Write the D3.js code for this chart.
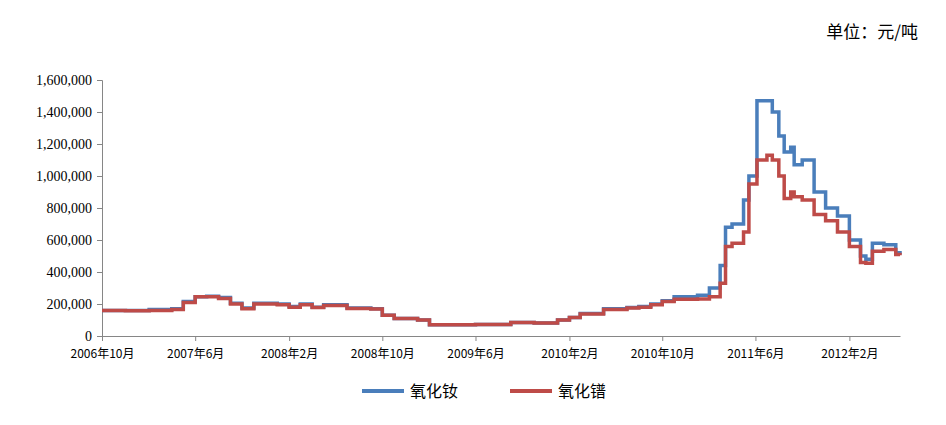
<!DOCTYPE html>
<html lang="zh">
<head>
<meta charset="UTF-8">
<title>氧化钕 氧化镨 价格</title>
<script src="https://d3js.org/d3.v7.min.js"></script>
<style>
  body { margin: 0; background: #fff; }
  text { font-family: "Liberation Serif", "Noto Sans CJK SC", serif; fill: #000; }
  .cjk { font-family: "Noto Sans CJK SC", sans-serif; }
</style>
</head>
<body>
<svg width="946" height="425"></svg>
<script>
// dates (year-month, fractional month allowed as day)
const dates = ['2006-10-01','2006-12-01','2007-02-01','2007-04-01','2007-05-01','2007-06-01','2007-07-01','2007-08-01','2007-09-01','2007-10-01','2007-11-01','2008-01-01','2008-02-01','2008-03-01','2008-04-01','2008-05-01','2008-07-01','2008-09-01','2008-10-01','2008-11-01','2009-01-01','2009-02-01','2009-06-01','2009-08-01','2009-09-01','2009-11-01','2010-01-01','2010-02-01','2010-03-01','2010-05-01','2010-07-01','2010-08-01','2010-09-01','2010-10-01','2010-11-01','2011-01-01','2011-02-01','2011-03-01','2011-03-15','2011-04-01','2011-05-01','2011-05-15','2011-06-05','2011-07-01','2011-07-15','2011-08-01','2011-08-15','2011-09-01','2011-09-10','2011-10-01','2011-11-01','2011-12-01','2012-01-01','2012-02-01','2012-03-01','2012-03-15','2012-04-01','2012-05-01','2012-06-01','2012-06-12'];
const ndOxide = [160000,160000,165000,170000,215000,245000,248000,240000,205000,175000,205000,200000,185000,200000,180000,195000,175000,170000,130000,110000,100000,70000,72000,72000,85000,82000,100000,115000,140000,170000,178000,185000,200000,220000,245000,255000,300000,440000,680000,700000,850000,1000000,1470000,1470000,1400000,1250000,1150000,1180000,1070000,1100000,900000,800000,750000,600000,500000,480000,580000,570000,520000,510000];
const prOxide = [160000,158000,160000,165000,210000,245000,245000,235000,200000,170000,200000,195000,180000,195000,178000,190000,172000,168000,130000,110000,100000,70000,72000,72000,85000,82000,100000,115000,138000,165000,175000,180000,195000,215000,230000,232000,245000,330000,560000,580000,650000,950000,1100000,1130000,1100000,1000000,860000,900000,870000,850000,760000,720000,650000,560000,460000,455000,530000,540000,510000,505000];
const yTicks = [0,200000,400000,600000,800000,1000000,1200000,1400000,1600000];
const xTickDates = ['2006-10-01','2007-06-01','2008-02-01','2008-10-01','2009-06-01','2010-02-01','2010-10-01','2011-06-01','2012-02-01'];
const seriesNames = ['氧化钕', '氧化镨'];
const colors = ['#4a7ebb', '#be4b48'];

const parse = d3.timeParse('%Y-%m-%d');
const svg = d3.select('svg');
const plotLeft = 102, plotRight = 900, plotTop = 80, plotBottom = 336;

const x = d3.scaleTime()
  .domain([parse(dates[0]), parse(dates[dates.length - 1])])
  .range([plotLeft, plotRight]);
const y = d3.scaleLinear().domain([0, 1600000]).range([plotBottom, plotTop]);

// y axis
const yAxis = svg.append('g')
  .attr('transform', `translate(${plotLeft},0)`)
  .call(d3.axisLeft(y).tickValues(yTicks).tickSize(5).tickFormat(d3.format(',')));
yAxis.selectAll('text').style('font-size', '14px').attr('dx', '-2');
yAxis.selectAll('line, path').attr('stroke', '#868686');

// x axis
const xAxis = svg.append('g')
  .attr('transform', `translate(0,${plotBottom})`)
  .call(d3.axisBottom(x).tickValues(xTickDates.map(parse)).tickSize(5).tickSizeOuter(0)
    .tickFormat(d => `${d.getFullYear()}年${d.getMonth() + 1}月`));
xAxis.selectAll('text').attr('class', 'cjk').style('font-size', '12px').attr('dy', '1.2em');
xAxis.selectAll('line, path').attr('stroke', '#868686');

const line = d3.line()
  .x((d, i) => x(parse(dates[i])))
  .y(d => y(d))
  .curve(d3.curveStepAfter);

[ndOxide, prOxide].forEach((s, k) => {
  svg.append('path')
    .datum(s)
    .attr('fill', 'none')
    .attr('stroke', colors[k])
    .attr('stroke-width', 3.5)
    .attr('d', line);
});

// legend
const lg = svg.append('g').attr('transform', 'translate(362,391)');
seriesNames.forEach((n, k) => {
  const g = lg.append('g').attr('transform', `translate(${k * 148},0)`);
  g.append('line').attr('x1', 0).attr('x2', 42).attr('y1', 0).attr('y2', 0)
    .attr('stroke', colors[k]).attr('stroke-width', 4);
  g.append('text').attr('class', 'cjk').attr('x', 48).attr('y', 6)
    .style('font-size', '16px').text(n);
});

svg.append('text').attr('class', 'cjk')
  .attr('x', 918).attr('y', 38).attr('text-anchor', 'end')
  .style('font-size', '17px').text('单位：元/吨');
</script>
</body>
</html>
